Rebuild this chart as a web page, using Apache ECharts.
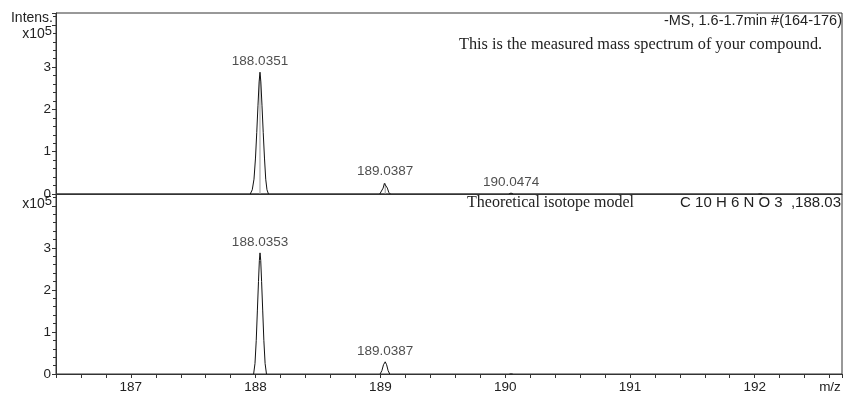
<!DOCTYPE html>
<html><head><meta charset="utf-8">
<script src="https://cdn.jsdelivr.net/npm/echarts@6/dist/echarts.min.js"></script>
<style>html,body{margin:0;padding:0;background:#fff}#c{width:846px;height:396px}</style>
</head><body><div id="c"></div>
<script>
// Measured spectrum profile peaks [m/z, intensity x10^5]
const measured188 = [[187.957,0],[187.973,0.10],[187.987,0.35],[187.999,0.85],[188.009,1.45],[188.019,2.10],
  [188.028,2.65],[188.035,2.88],[188.042,2.65],[188.051,2.10],[188.061,1.45],[188.071,0.85],
  [188.081,0.35],[188.091,0.10],[188.103,0]];
const measured189 = [[188.995,0],[189.010,0.04],[189.022,0.14],[189.032,0.25],[189.039,0.28],[189.046,0.25],
  [189.056,0.14],[189.067,0.04],[189.080,0]];
const measured190 = [[190.030,0],[190.040,0.015],[190.047,0.022],[190.054,0.015],[190.064,0]];
const measured192 = [[192.030,0],[192.045,0.012],[192.060,0]];
// Theoretical isotope model peaks
const theo188 = [[187.984,0],[187.995,0.25],[188.005,0.80],[188.014,1.50],[188.023,2.20],[188.030,2.70],
  [188.0353,2.88],[188.041,2.70],[188.048,2.20],[188.057,1.50],[188.066,0.80],[188.076,0.25],[188.087,0]];
const theo189 = [[188.998,0],[189.012,0.08],[189.025,0.22],[189.0387,0.29],[189.050,0.22],[189.062,0.08],[189.075,0]];
const theo190 = [[190.035,0],[190.048,0.02],[190.060,0]];

const measuredPeaks = [[188.0351,2.88],[189.0387,0.28],[190.0474,0.022]];
const measuredLabels = ['188.0351','189.0387','190.0474'];
const measuredSticks = [[188.0351,2.80],[189.0387,0.26]];
const theoreticalPeaks = [[188.0353,2.88],[189.0387,0.29]];
const theoreticalLabels = ['188.0353','189.0387'];

const SANS = 'Liberation Sans, Arial, sans-serif';
const SERIF = 'Liberation Serif, Times New Roman, serif';
const AX = '#333';

function xAx(i, showLabels){
  return {
    type:'value', gridIndex:i, min:186.4, max:192.7, interval:0.2,
    splitLine:{show:false},
    axisLine:{show:true, onZero:false, lineStyle:{color:AX, width:1}},
    axisTick:{show:showLabels, length:4, lineStyle:{color:AX}},
    axisLabel:{show:showLabels, margin:6, color:'#222', fontFamily:SANS, fontSize:13.5,
      formatter:v=>Math.abs(v-Math.round(v))<1e-6 ? String(Math.round(v)) : ''}
  };
}
function yAx(i){
  return {
    type:'value', gridIndex:i, min:0, max:4.28, interval:1,
    splitLine:{show:false},
    axisLine:{show:true, lineStyle:{color:AX, width:1}},
    axisTick:{show:true, length:4, lineStyle:{color:AX}},
    minorTick:{show:true, splitNumber:5, length:3, lineStyle:{color:AX}},
    axisLabel:{margin:5, color:'#222', fontFamily:SANS, fontSize:13.5,
      formatter:v=>(v<3.5 && Math.abs(v-Math.round(v))<1e-6) ? String(Math.round(v)) : ''}
  };
}
function profile(data, xi){
  return {type:'line', xAxisIndex:xi, yAxisIndex:xi, data:data, symbol:'none', smooth:false,
    lineStyle:{color:'#111', width:1}, z:3};
}
function labelSeries(peaks, labels, xi){
  return {
    type:'scatter', xAxisIndex:xi, yAxisIndex:xi, symbolSize:1, silent:true,
    itemStyle:{color:'rgba(0,0,0,0)'},
    label:{show:true, position:'top', distance:3, color:'#222', fontFamily:SANS, fontSize:13.5},
    data:peaks.map((p,k)=>({value:p, label:{formatter:labels[k]}})),
    z:5
  };
}
const series = [
  profile(measured188,0), profile(measured189,0), profile(measured190,0), profile(measured192,0),
  profile(theo188,1), profile(theo189,1), profile(theo190,1),
  labelSeries(measuredPeaks, measuredLabels, 0),
  labelSeries(theoreticalPeaks, theoreticalLabels, 1)
];
measuredSticks.forEach(s=>{
  series.push({type:'line', xAxisIndex:0, yAxisIndex:0, data:[[s[0],0],s], symbol:'none',
    lineStyle:{color:'#999', width:1}, z:2});
});

const chart = echarts.init(document.getElementById('c'), null, {renderer:'canvas'});
chart.setOption({
  animation:false,
  backgroundColor:'#fff',
  grid:[
    {left:56, top:13, width:786, height:181, show:true, borderColor:AX, borderWidth:1, backgroundColor:'transparent'},
    {left:56, top:194, width:786, height:180, show:true, borderColor:AX, borderWidth:1, backgroundColor:'transparent'}
  ],
  xAxis:[xAx(0,false), xAx(1,true)],
  yAxis:[yAx(0), yAx(1)],
  series:series,
  graphic:[
    {type:'text', x:53, y:18, style:{text:'Intens.', align:'right', verticalAlign:'middle', fill:'#222', font:'14px '+SANS}},
    {type:'text', x:52, y:34, style:{text:'x10{s|5}', align:'right', verticalAlign:'middle', fill:'#222', font:'14px '+SANS,
      rich:{s:{fontSize:13, fontFamily:SANS, verticalAlign:'top', lineHeight:18}}}},
    {type:'text', x:52, y:204, style:{text:'x10{s|5}', align:'right', verticalAlign:'middle', fill:'#222', font:'14px '+SANS,
      rich:{s:{fontSize:13, fontFamily:SANS, verticalAlign:'top', lineHeight:18}}}},
    {type:'text', x:842, y:21, style:{text:'-MS, 1.6-1.7min #(164-176)', align:'right', verticalAlign:'middle', fill:'#222', font:'14.5px '+SANS}},
    {type:'text', x:459, y:45, style:{text:'This is the measured mass spectrum of your compound.', align:'left', verticalAlign:'middle', fill:'#222', font:'16.3px '+SERIF}},
    {type:'text', x:467, y:203, style:{text:'Theoretical isotope model', align:'left', verticalAlign:'middle', fill:'#222', font:'16px '+SERIF}},
    {type:'text', x:841, y:203, style:{text:'C 10 H 6 N O 3  ,188.03', align:'right', verticalAlign:'middle', fill:'#222', font:'15px '+SANS}},
    {type:'text', x:830, y:387, style:{text:'m/z', align:'center', verticalAlign:'middle', fill:'#222', font:'13.5px '+SANS}}
  ]
});
</script>
</body></html>
